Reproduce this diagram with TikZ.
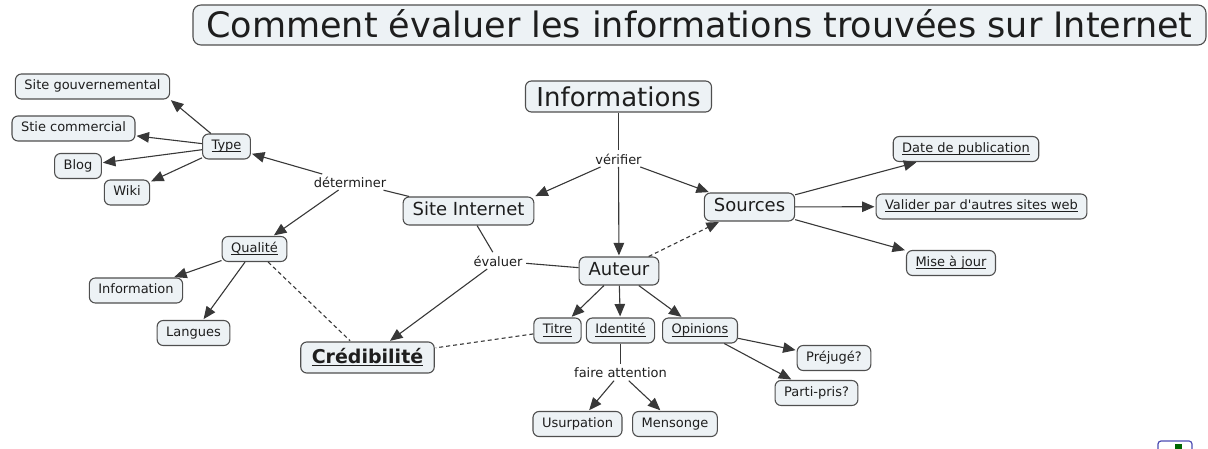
\documentclass[tikz,border=0pt]{standalone}
\usepackage{fontspec}
\setmainfont{DejaVu Sans}
\usetikzlibrary{arrows.meta}

\definecolor{fond}{HTML}{EDF2F5}
\definecolor{bord}{HTML}{4F4F4F}
\definecolor{trait}{HTML}{383838}
\definecolor{texte}{HTML}{1E1E1E}
\newcommand{\souligne}[1]{\setbox0=\hbox{#1}\rlap{\rule[-2.3pt]{\wd0}{0.8pt}}\box0}
\newcommand{\soulignegras}[1]{\setbox0=\hbox{#1}\rlap{\rule[-3pt]{\wd0}{1.5pt}}\box0}

\begin{document}
\begin{tikzpicture}[x=1pt, y=-1pt, > = {Triangle[length=12.5pt, width=10.5pt]}, shorten > = 1pt]
            \tikzstyle{concept}=[draw=bord, fill=fond, rounded corners=6pt, line width=1.1pt, text=texte, inner xsep=9pt, inner ysep=0pt, text height=10pt, text depth=3pt, minimum height=25pt, font=\fontsize{13}{15}\selectfont]
            \tikzstyle{grand}=[concept, font=\fontsize{18}{21}\selectfont, inner xsep=9.5pt, text height=13.5pt, text depth=4pt, minimum height=28pt]
            \tikzstyle{phrase}=[fill=white, inner sep=2.5pt, text=texte, font=\fontsize{13}{15}\selectfont]
            \tikzstyle{lien}=[draw=trait, line width=1.1pt]

                \useasboundingbox (0,0) rectangle (1208,449);

                % Titre
                \node[concept, rounded corners=8pt, font=\fontsize{35}{40}\selectfont, minimum width=1013pt, minimum height=40pt, text height=29pt, text depth=4pt] (sujet) at (699.5,25) {Comment évaluer les informations trouvées sur Internet};

                % Noeuds
                \node[concept, font=\fontsize{26}{30}\selectfont, inner xsep=11pt, text height=23pt, text depth=3pt, minimum height=31pt] (infos) at (618.5,96.5) {Informations};
                \node[grand] (site) at (468.5,211) {Site Internet};
                \node[grand] (auteur) at (619,271) {Auteur};
                \node[grand] (sources) at (749.5,207) {Sources};
                \node[concept, font=\bfseries\fontsize{19}{22}\selectfont, inner xsep=11pt, text height=14pt, text depth=3pt, minimum height=31pt] (credibilite) at (367.5,357.5) {\soulignegras{Crédibilité}};

                \node[concept] (date) at (966,149) {\souligne{Date de publication}};
                \node[concept] (valider) at (981.5,206.5) {\souligne{Valider par d\textquotesingle autres sites web}};
                \node[concept] (maj) at (951,263) {\souligne{Mise à jour}};

                \node[concept] (type) at (226.5,146.5) {\souligne{Type}};
                \node[concept] (gouv) at (92.5,86.5) {Site gouvernemental};
                \node[concept] (commercial) at (73.5,128.5) {Stie commercial};
                \node[concept] (blog) at (78,166) {Blog};
                \node[concept] (wiki) at (127,192.5) {Wiki};

                \node[concept] (qualite) at (254.5,249) {\souligne{Qualité}};
                \node[concept] (information) at (136,290.5) {Information};
                \node[concept] (langues) at (193.5,333) {Langues};

                \node[concept] (titre) at (557.5,330.5) {\souligne{Titre}};
                \node[concept] (identite) at (620.5,330.5) {\souligne{Identité}};
                \node[concept] (opinions) at (700,330.5) {\souligne{Opinions}};
                \node[concept] (prejuge) at (834,358) {Préjugé?};
                \node[concept] (partipris) at (816.5,393) {Parti-pris?};
                \node[concept] (usurpation) at (577.5,424) {Usurpation};
                \node[concept] (mensonge) at (675,424) {Mensonge};

                % Mots de liaison
                \node[phrase] (verifier) at (618.5,159) {vérifier};
                \node[phrase] (determiner) at (350,182) {déterminer};
                \node[phrase] (evaluer) at (498,261) {évaluer};
                \node[phrase] (attention) at (620.5,373) {faire attention};

                % Liens
                \draw[lien] (infos) -- (verifier);
                \draw[lien,->] (verifier) -- (site.north east);
                \draw[lien,->] (verifier) -- (auteur);
                \draw[lien,->] (verifier) -- (sources);

                \draw[lien] (site) -- (determiner);
                \draw[lien,->] (determiner) -- (type);
                \draw[lien,->] (determiner) -- (qualite);

                \draw[lien,->] (type) -- (gouv.south east);
                \draw[lien,->] (type) -- (commercial);
                \draw[lien,->] (type) -- (blog);
                \draw[lien,->] (type) -- (wiki);

                \draw[lien,->] (qualite) -- (information);
                \draw[lien,->] (qualite) -- (langues);

                \draw[lien] (site) -- (evaluer);
                \draw[lien] (auteur) -- (evaluer);
                \draw[lien,->] (evaluer) -- (credibilite);

                \draw[lien,->,dash pattern=on 4pt off 3pt] (auteur) -- (sources);
                \draw[lien,dash pattern=on 4pt off 3pt] (qualite) -- (credibilite);
                \draw[lien,dash pattern=on 4pt off 3pt] (titre) -- (credibilite);

                \draw[lien,->] (sources) -- (date);
                \draw[lien,->] (sources) -- (valider);
                \draw[lien,->] (sources) -- (maj);

                \draw[lien,->] (auteur) -- (titre);
                \draw[lien,->] (auteur) -- (identite);
                \draw[lien,->] (auteur) -- (opinions);

                \draw[lien,->] (opinions) -- (prejuge);
                \draw[lien,->] (opinions) -- (partipris);

                \draw[lien] (identite) -- (attention);
                \draw[lien,->] (attention) -- (usurpation);
                \draw[lien,->] (attention) -- (mensonge);

                % Icone
                \draw[draw=blue!40!gray, line width=1.2pt, rounded corners=3pt] (1158,452) -- (1158,441) -- (1192,441) -- (1192,452);
                \fill[green!40!black] (1175,444) rectangle (1182,449);
\end{tikzpicture}
\end{document}
